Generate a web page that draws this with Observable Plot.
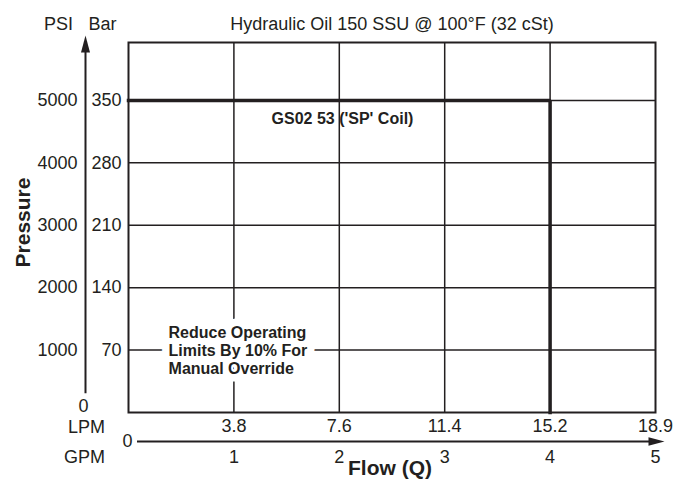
<!DOCTYPE html>
<html>
<head>
<meta charset="utf-8">
<script src="https://cdn.jsdelivr.net/npm/d3@7"></script>
<script src="https://cdn.jsdelivr.net/npm/@observablehq/plot@0.6"></script>
<style>
  html, body { margin: 0; padding: 0; background: white; }
</style>
</head>
<body>
<div id="chart"></div>
<script>
// ---- data ----
const gpmTicks = [1, 2, 3, 4, 5];
const lpmLabels = ["3.8", "7.6", "11.4", "15.2", "18.9"];
const barTicks = [70, 140, 210, 280, 350];
const psiLabels = ["1000", "2000", "3000", "4000", "5000"];
const limitFlow = [0, 4, 4];          // GPM
const limitPressure = [350, 350, 0];  // Bar
const curveLabel = ["GS02 53 ('SP' Coil)"];
const curveLabelFlow = [2.03];
const curveLabelPressure = [329];
const noteText = ["Reduce Operating\nLimits By 10% For\nManual Override"];
const noteFlow = [0.38];
const notePressure = [70];
const subtitle = "Hydraulic Oil 150 SSU @ 100°F (32 cSt)";
const pressureAxisSpan = [21, 405];   // bar, extent of the drawn pressure arrow shaft

const ink = "#231f20";
const font = "'Liberation Sans', Arial, Helvetica, sans-serif";

const limit = limitFlow.map((f, i) => ({flow: f, pressure: limitPressure[i]}));

// custom narrow filled arrowheads
const headUp = {draw(ctx) { ctx.moveTo(0, -17); ctx.lineTo(4.5, 0); ctx.lineTo(-4.5, 0); ctx.closePath(); }};
const headRight = {draw(ctx) { ctx.moveTo(16, 0); ctx.lineTo(0, 4.2); ctx.lineTo(0, -4.2); ctx.closePath(); }};

const T = {fontSize: 18, fill: ink, textAnchor: "middle", lineAnchor: "middle", fontFamily: font};

const noteOpts = {x: (d, i) => noteFlow[i], y: (d, i) => notePressure[i], text: d => d,
  textAnchor: "start", lineAnchor: "middle", lineHeight: 1.15, fontWeight: "bold", fontSize: 16, fontFamily: font};

const chart = Plot.plot({
  width: 688,
  height: 483,
  marginLeft: 128,
  marginRight: 33,
  marginTop: 42,
  marginBottom: 71,
  x: {domain: [0, 5], axis: null},
  y: {domain: [0, 415], axis: null},
  style: {fontFamily: font, fontSize: "18px", color: ink, background: "white"},
  marks: [
    // grid
    Plot.ruleX(gpmTicks.slice(0, 4), {stroke: ink, strokeWidth: 1.5}),
    Plot.ruleY(barTicks, {stroke: ink, strokeWidth: 1.5}),
    Plot.frame({stroke: ink, strokeWidth: 2}),
    // limit curve
    Plot.line(limit, {x: "flow", y: "pressure", stroke: ink, strokeWidth: 3.5, strokeLinejoin: "miter", strokeLinecap: "square"}),
    // annotations
    Plot.text(curveLabel, {x: (d, i) => curveLabelFlow[i], y: (d, i) => curveLabelPressure[i], text: d => d,
      fontWeight: "bold", fontSize: 16, fill: ink, fontFamily: font, lineAnchor: "middle"}),
    Plot.text(noteText, {...noteOpts, fill: "white", stroke: "white", strokeWidth: 15, strokeLinejoin: "round"}),
    Plot.text(noteText, {...noteOpts, fill: ink}),
    // left (pressure) axis
    Plot.text(barTicks, {...T, y: d => d, text: d => String(d), frameAnchor: "left", dx: -7, textAnchor: "end"}),
    Plot.text(psiLabels, {...T, y: (d, i) => barTicks[i], text: d => d, frameAnchor: "left", dx: -51, textAnchor: "end"}),
    Plot.ruleX([0], {y1: pressureAxisSpan[0], y2: pressureAxisSpan[1], dx: -43, stroke: ink, strokeWidth: 2}),
    Plot.dot([415], {x: () => 0, y: d => d, dx: -43, dy: 10, symbol: headUp, fill: ink, stroke: "none", r: 5}),
    Plot.text(["0"], {...T, frameAnchor: "bottom-left", dx: -45, dy: -6}),
    Plot.text(["PSI"], {...T, frameAnchor: "top-left", dx: -70, dy: -18}),
    Plot.text(["Bar"], {...T, frameAnchor: "top-left", dx: -26, dy: -18}),
    Plot.text([subtitle], {...T, frameAnchor: "top", dy: -18}),
    Plot.text(["Pressure"], {...T, frameAnchor: "left", dx: -105, dy: -5, rotate: -90, fontWeight: "bold", fontSize: 21}),
    // bottom (flow) axis
    Plot.text(lpmLabels, {...T, x: (d, i) => gpmTicks[i], text: d => d, frameAnchor: "bottom", dy: 14}),
    Plot.text(gpmTicks, {...T, x: d => d, text: d => String(d), frameAnchor: "bottom", dy: 45}),
    Plot.ruleY([0], {x1: 0, x2: 5, dy: 29, insetLeft: 9, insetRight: 6, stroke: ink, strokeWidth: 2}),
    Plot.dot([5], {x: d => d, y: () => 0, dx: -7, dy: 29, symbol: headRight, fill: ink, stroke: "none", r: 5}),
    Plot.text(["0"], {...T, x: () => 0, frameAnchor: "bottom", dy: 29, dx: -1}),
    Plot.text(["LPM"], {...T, frameAnchor: "bottom-left", dx: -42, dy: 15}),
    Plot.text(["GPM"], {...T, frameAnchor: "bottom-left", dx: -44, dy: 45}),
    Plot.text(["Flow (Q)"], {...T, frameAnchor: "bottom", dx: -2, dy: 56, fontWeight: "bold", fontSize: 21})
  ]
});
document.getElementById("chart").appendChild(chart);
</script>
</body>
</html>
